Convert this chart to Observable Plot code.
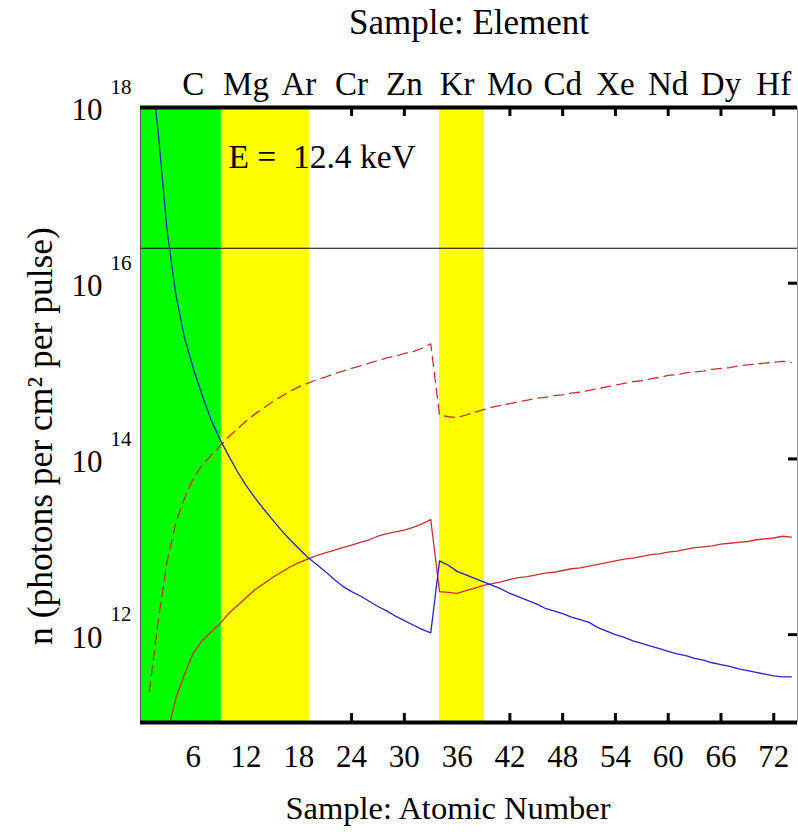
<!DOCTYPE html>
<html>
<head>
<meta charset="utf-8">
<script src="https://cdn.jsdelivr.net/npm/d3@7"></script>
<script src="https://cdn.jsdelivr.net/npm/@observablehq/plot@0.6"></script>
<style>
  html, body { margin: 0; padding: 0; background: #fff; }
  #chart svg { display: block; }
  #chart svg text { font-family: "Liberation Serif", "Times New Roman", Tinos, "DejaVu Serif", serif !important; }
</style>
</head>
<body>
<div id="chart"></div>
<script>
// ---- data (log10 of photons per cm^2 per pulse) ----
const atomicNumber = [
  1, 2, 3, 4, 5, 6, 7, 8, 9, 10,
  11, 12, 13, 14, 15, 16, 17, 18, 19, 20,
  21, 22, 23, 24, 25, 26, 27, 28, 29, 30,
  31, 32, 33, 34, 35, 36, 37, 38, 39, 40,
  41, 42, 43, 44, 45, 46, 47, 48, 49, 50,
  51, 52, 53, 54, 55, 56, 57, 58, 59, 60,
  61, 62, 63, 64, 65, 66, 67, 68, 69, 70,
  71, 72, 73, 74
];
// blue solid curve
const blueLog10 = [
  18.65, 17.73, 16.62, 15.88, 15.38, 15.03, 14.73, 14.45, 14.23, 14.04,
  13.86, 13.70, 13.56, 13.43, 13.31, 13.19, 13.08, 12.98, 12.88, 12.80,
  12.72, 12.63, 12.55, 12.49, 12.44, 12.38, 12.32, 12.27, 12.21, 12.16,
  12.11, 12.06, 12.02, 12.84, 12.79, 12.72, 12.68, 12.64, 12.60, 12.56,
  12.52, 12.47, 12.43, 12.39, 12.35, 12.30, 12.27, 12.24, 12.20, 12.17,
  12.14, 12.08, 12.04, 12.00, 11.97, 11.93, 11.90, 11.87, 11.84, 11.81,
  11.78, 11.76, 11.73, 11.71, 11.68, 11.66, 11.64, 11.61, 11.59, 11.57,
  11.55, 11.53, 11.52, 11.52
];
// red solid curve
const redSolidLog10 = [
  9.30, 10.20, 10.85, 11.27, 11.55, 11.79, 11.93, 12.03, 12.12, 12.24,
  12.33, 12.42, 12.51, 12.58, 12.65, 12.71, 12.77, 12.82, 12.86, 12.90,
  12.93, 12.96, 12.99, 13.02, 13.05, 13.08, 13.12, 13.15, 13.17, 13.19,
  13.22, 13.26, 13.31, 12.49, 12.48, 12.47, 12.50, 12.53, 12.56, 12.58,
  12.60, 12.63, 12.65, 12.66, 12.68, 12.70, 12.71, 12.73, 12.75, 12.76,
  12.78, 12.80, 12.82, 12.84, 12.86, 12.87, 12.89, 12.91, 12.92, 12.94,
  12.95, 12.97, 12.99, 13.00, 13.01, 13.03, 13.04, 13.05, 13.06, 13.08,
  13.09, 13.10, 13.12, 13.11
];
// red dashed curve
const redDashedLog10 = [
  11.35, 12.15, 12.82, 13.27, 13.55, 13.78, 13.93, 14.04, 14.14, 14.25,
  14.34, 14.43, 14.51, 14.58, 14.65, 14.71, 14.77, 14.82, 14.86, 14.90,
  14.93, 14.97, 15.00, 15.03, 15.06, 15.09, 15.12, 15.15, 15.17, 15.20,
  15.22, 15.26, 15.31, 14.50, 14.48, 14.47, 14.50, 14.53, 14.56, 14.59,
  14.61, 14.63, 14.65, 14.67, 14.69, 14.70, 14.72, 14.73, 14.75, 14.76,
  14.78, 14.80, 14.82, 14.84, 14.86, 14.88, 14.89, 14.91, 14.93, 14.95,
  14.96, 14.98, 14.99, 15.00, 15.02, 15.03, 15.04, 15.06, 15.07, 15.08,
  15.09, 15.10, 15.11, 15.10
];
// horizontal reference level
const referenceLevel = [2.5e16];

// axes
const xTickValues = [6, 12, 18, 24, 30, 36, 42, 48, 54, 60, 66, 72];
const elementSymbols = ["C", "Mg", "Ar", "Cr", "Zn", "Kr", "Mo", "Cd", "Xe", "Nd", "Dy", "Hf"];
const yTickValues = [1e18, 1e16, 1e14, 1e12];
const yTickExponents = ["18", "16", "14", "12"];
const xDomain = [0, 74.7];
const yDomain = [1e11, 1e18];

// shaded sample ranges (atomic number)
const greenBands = [[0, 9.2]];
const yellowBands = [[9.2, 19.2], [34.0, 39.1]];

const annotation = "E =\u00a0 12.4 keV";
const titleTop = "Sample: Element";
const titleBottom = "Sample: Atomic Number";
const titleLeft = "n (photons per cm\u00b2 per pulse)";

// ---- build ----
const toRows = (logs) => atomicNumber.map((z, i) => ({z, v: Math.pow(10, logs[i])}));
const blue = toRows(blueLog10);
const redSolid = toRows(redSolidLog10);
const redDashed = toRows(redDashedLog10);

const frameW = 798 - 140 - 1;
const frameH = 832 - 107 - 110;
const serif = "'Liberation Serif', 'Times New Roman', Tinos, 'DejaVu Serif', serif";
const txt = {fontFamily: serif, fill: "#000", lineAnchor: "middle"};

const chart = Plot.plot({
  width: 798,
  height: 832,
  marginTop: 107,
  marginBottom: 110,
  marginLeft: 140,
  marginRight: 1,
  style: {background: "#ffffff", color: "#000"},
  x: {domain: xDomain, axis: null},
  y: {type: "log", domain: yDomain, axis: null},
  marks: [
    // inward ticks (hidden beneath the coloured bands, as in the reference)
    Plot.tickX(xTickValues, {x: d => d, insetTop: frameH - 9, stroke: "#000", strokeWidth: 3}),
    Plot.tickX(xTickValues, {x: d => d, insetBottom: frameH - 9, stroke: "#000", strokeWidth: 3}),
    Plot.tickY(yTickValues, {y: d => d, insetLeft: frameW - 9, stroke: "#000", strokeWidth: 3}),
    // bands
    Plot.rect(greenBands, {x1: d => d[0], x2: d => d[1], y1: yDomain[0], y2: yDomain[1], fill: "#00ff00"}),
    Plot.rect(yellowBands, {x1: d => d[0], x2: d => d[1], y1: yDomain[0], y2: yDomain[1], fill: "#ffff00"}),
    // reference line
    Plot.ruleY(referenceLevel, {stroke: "#000", strokeWidth: 1}),
    // curves
    Plot.line(redDashed, {x: "z", y: "v", stroke: "#c83030", strokeWidth: 1.3, strokeDasharray: "10,6", clip: true}),
    Plot.line(redSolid, {x: "z", y: "v", stroke: "#c83030", strokeWidth: 1.3, clip: true}),
    Plot.line(blue, {x: "z", y: "v", stroke: "#2424c0", strokeWidth: 1.3, clip: true}),
    // frame
    Plot.ruleX([xDomain[0]], {stroke: "#555", strokeWidth: 1}),
    Plot.ruleX([xDomain[1]], {stroke: "#999", strokeWidth: 1}),
    Plot.ruleY([yDomain[1]], {stroke: "#000", strokeWidth: 4}),
    Plot.ruleY([yDomain[0]], {stroke: "#000", strokeWidth: 4}),
    // bottom tick labels
    Plot.text(xTickValues, {...txt, x: d => d, text: d => String(d), frameAnchor: "bottom", textAnchor: "middle", dy: 35, fontSize: 31}),
    // top element labels
    Plot.text(xTickValues, {...txt, x: d => d, text: (d, i) => elementSymbols[i], frameAnchor: "top", textAnchor: "middle", dy: -23, fontSize: 33}),
    // y tick labels: 10 with superscript exponent
    Plot.text(yTickValues, {...txt, y: d => d, text: () => "10", frameAnchor: "left", textAnchor: "end", dx: -38, dy: 3, fontSize: 31}),
    Plot.text(yTickValues, {...txt, y: d => d, text: (d, i) => yTickExponents[i], frameAnchor: "left", textAnchor: "start", dx: -30, dy: -20, fontSize: 21}),
    // annotation
    Plot.text([annotation], {...txt, text: d => d, frameAnchor: "top-left", textAnchor: "start", dx: 88, dy: 50, fontSize: 33.5}),
    // titles
    Plot.text([titleTop], {...txt, text: d => d, frameAnchor: "top", textAnchor: "middle", dy: -85, fontSize: 35}),
    Plot.text([titleBottom], {...txt, text: d => d, frameAnchor: "bottom", textAnchor: "middle", dx: -21, dy: 86, fontSize: 32.5}),
    Plot.text([titleLeft], {...txt, text: d => d, frameAnchor: "left", textAnchor: "middle", rotate: -90, dx: -100, dy: 21, fontSize: 35.5})
  ]
});

document.getElementById("chart").appendChild(chart);
</script>
</body>
</html>
